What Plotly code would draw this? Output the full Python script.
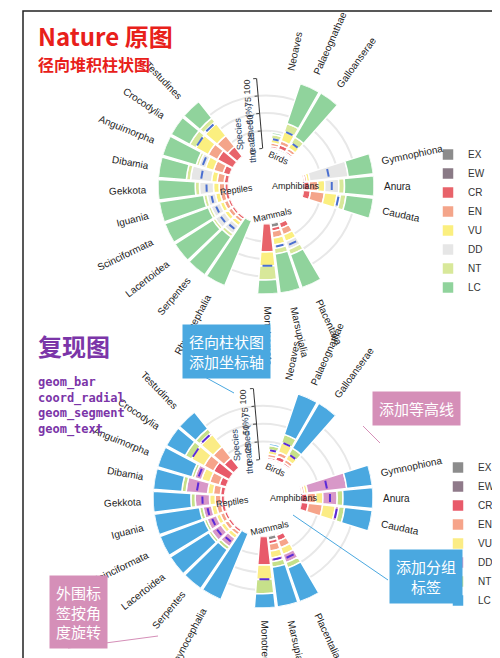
import math
import plotly.graph_objects as go

# ---- data ----
orders = ["Neoaves", "Palaeognathae", "Galloanserae",
          "Gymnophiona", "Anura", "Caudata",
          "Placentalia", "Marsupialia", "Monotremata",
          "Rhynocephalia", "Serpentes", "Lacertoidea", "Scinciformata", "Iguania",
          "Gekkota", "Dibamia", "Anguimorpha", "Crocodylia", "Testudines"]
clades = ["Birds", "Amphibians", "Mammals", "Reptiles"]
clade_sizes = [3, 3, 3, 10]
clade_start = [12, 78, 155, 208]   # compass angle of first bar in each clade
step = 12

categories = ["EX", "EW", "CR", "EN", "VU", "DD", "NT", "LC"]
EX = [1, 2, 1, 0, 0, 0, 2, 6, 0, 0, 0, 0, 0, 0, 0, 0, 0, 0, 0]
EW = [0, 0, 0, 0, 0, 0, 0, 0, 0, 0, 0, 0, 0, 0, 0, 0, 0, 0, 0]
CR = [3, 6, 3, 2, 8, 10, 8, 5, 40, 0, 4, 4, 4, 5, 5, 6, 10, 25, 18]
EN = [4, 6, 5, 3, 12, 20, 10, 10, 0, 0, 5, 6, 6, 7, 8, 10, 14, 15, 20]
VU = [5, 14, 8, 4, 10, 18, 10, 10, 20, 0, 6, 6, 6, 7, 8, 8, 12, 20, 22]
DD = [1, 0, 0, 55, 20, 5, 12, 5, 0, 0, 14, 16, 14, 12, 20, 30, 10, 0, 3]
NT = [6, 12, 10, 0, 8, 8, 8, 8, 20, 0, 5, 4, 4, 5, 6, 6, 4, 10, 7]
LC = [3, 60, 73, 36, 42, 39, 50, 56, 20, 100, 66, 64, 66, 64, 53, 40, 50, 30, 30]
values = [EX, EW, CR, EN, VU, DD, NT, LC]

ticks = [0, 25, 50, 75, 100]

colors_orig = ["#8c8c8c", "#8a7a86", "#e8636a", "#f4a58a", "#fbef7f", "#e6e6e6", "#d8e89a", "#90d39c"]
colors_rep = ["#8c8c8c", "#8f7a8a", "#e85a6a", "#f6a48a", "#fbec85", "#d898c8", "#c6e08a", "#4aa8e0"]

theta = []
for s, n in zip(clade_start, clade_sizes):
    theta += [s + step * k for k in range(n)]

W, H = 500, 658
charts = [dict(name="polar", legend="legend", cx=258, cy=178, R=108, colors=colors_orig, mark="#4a6fd0"),
          dict(name="polar2", legend="legend2", cx=255, cy=490, R=110, colors=colors_rep, mark="#5b2bd8")]

fig = go.Figure()
annotations = []
font = "Liberation Sans"
cjk = "Noto Sans CJK SC"


def to_paper(c, ang, rpx):
    a = math.radians(ang)
    return (c["cx"] + rpx * math.sin(a)) / W, 1 - (c["cy"] - rpx * math.cos(a)) / H


for c in charts:
    for cat, vals, col in zip(categories, values, c["colors"]):
        fig.add_trace(go.Barpolar(r=vals, theta=theta, width=11, name=cat, subplot=c["name"],
                                  marker=dict(color=col, line=dict(color="white", width=1.5)),
                                  legend=c["legend"]))
    # threatened estimate segments
    for i, t in enumerate(theta):
        thr = EX[i] + EW[i] + CR[i] + EN[i] + VU[i]
        if thr == 0:
            continue
        rr = thr + DD[i] * 0.5
        fig.add_trace(go.Scatterpolar(r=[rr, rr], theta=[t - 3.5, t + 3.5], mode="lines",
                                      line=dict(color=c["mark"], width=2), showlegend=False,
                                      subplot=c["name"], hoverinfo="skip"))
    # order labels
    for name, t in zip(orders, theta):
        rpx = c["R"] + 8 + len(name) * 3.1
        x, y = to_paper(c, t, rpx)
        ang = t - 90 if t < 180 else t - 270
        annotations.append(dict(x=x, y=y, xref="paper", yref="paper", text=name, showarrow=False,
                                textangle=ang, font=dict(family=font, size=10, color="#222"),
                                xanchor="center", yanchor="middle"))
    # clade labels in the hole
    for k, (cl, s, n) in enumerate(zip(clades, clade_start, clade_sizes)):
        mid = s + step * (n - 1) / 2
        x, y = to_paper(c, mid, c["R"] * 0.28)
        ang = mid - 90 if mid < 180 else mid - 270
        if cl == "Birds":
            ang = mid
        if cl == "Mammals":
            ang = mid - 180
        annotations.append(dict(x=x, y=y, xref="paper", yref="paper", text=cl, showarrow=False,
                                textangle=ang, font=dict(family=font, size=9, color="#222"),
                                xanchor="center", yanchor="middle"))

polar_common = dict(
    hole=0.35, bgcolor="white",
    angularaxis=dict(rotation=90, direction="clockwise", showline=False,
                     showticklabels=False, ticks="", showgrid=False),
    radialaxis=dict(range=[0, 100], angle=95, tickvals=ticks, tickangle=5, side="counterclockwise",
                    showline=True, linecolor="#333", ticks="outside", ticklen=3,
                    tickfont=dict(family=font, size=9, color="#333"),
                    gridcolor="#e8e8e8", gridwidth=1.5,
                    title=dict(text="Species<br>threatened (%)", font=dict(family=font, size=9))),
)

for c in charts:
    x0, x1 = (c["cx"] - c["R"]) / W, (c["cx"] + c["R"]) / W
    y0, y1 = 1 - (c["cy"] + c["R"]) / H, 1 - (c["cy"] - c["R"]) / H
    fig.update_layout({c["name"]: dict(domain=dict(x=[x0, x1], y=[y0, y1]), **polar_common)})

legend_style = dict(font=dict(family=font, size=10, color="#333"), tracegroupgap=0,
                    itemwidth=30, bgcolor="rgba(0,0,0,0)", xanchor="left", yanchor="top")
fig.update_layout(legend=dict(x=0.84, y=1 - 132 / H, **legend_style),
                  legend2=dict(x=0.86, y=1 - 445 / H, **legend_style))

# titles and notes
annotations += [
    dict(x=28 / W, y=1 - 8 / H, text="<b>Nature 原图</b>", font=dict(family=cjk, size=24, color="#e8201a")),
    dict(x=28 / W, y=1 - 42 / H, text="<b>径向堆积柱状图</b>", font=dict(family=cjk, size=16, color="#e8201a")),
    dict(x=28 / W, y=1 - 318 / H, text="<b>复现图</b>", font=dict(family=cjk, size=24, color="#7b35a8")),
    dict(x=28 / W, y=1 - 365 / H, text="<b>geom_bar<br>coord_radial<br>geom_segment<br>geom_text</b>",
         align="left", font=dict(family="DejaVu Sans Mono", size=12, color="#7b35a8")),
]
boxes = [("径向柱状图<br>添加坐标轴", 218, 343, "#4aa8e0"),
         ("添加等高线", 408, 400, "#d58fb8"),
         ("添加分组<br>标签", 418, 568, "#4aa8e0"),
         ("外围标<br>签按角<br>度旋转", 70, 604, "#d58fb8")]
for txt, bx, by, col in boxes:
    annotations.append(dict(x=bx / W, y=1 - by / H, text=txt, showarrow=False, bgcolor=col,
                            borderpad=6, xanchor="center", yanchor="middle",
                            font=dict(family=cjk, size=15, color="white")))
for a in annotations:
    a.setdefault("xref", "paper")
    a.setdefault("yref", "paper")
    a.setdefault("showarrow", False)
    a.setdefault("xanchor", "left")
    a.setdefault("yanchor", "top")

connectors = [(195, 368, 226, 385, "#4aa8e0"), (355, 418, 372, 435, "#d58fb8"),
              (285, 507, 380, 572, "#4aa8e0"), (60, 640, 150, 628, "#d58fb8")]
shapes = [dict(type="line", xref="paper", yref="paper", x0=a / W, y0=1 - b / H, x1=c / W, y1=1 - d / H,
               line=dict(color=col, width=1)) for a, b, c, d, col in connectors]
shapes.append(dict(type="rect", xref="paper", yref="paper", x0=15 / W, y0=0, x1=489 / W, y1=1 - 3 / H,
                   line=dict(color="#222", width=1.5)))

fig.update_layout(width=W, height=H, margin=dict(l=0, r=0, t=0, b=0), paper_bgcolor="white",
                  annotations=annotations, shapes=shapes, showlegend=True)
fig.write_html("out.html")
